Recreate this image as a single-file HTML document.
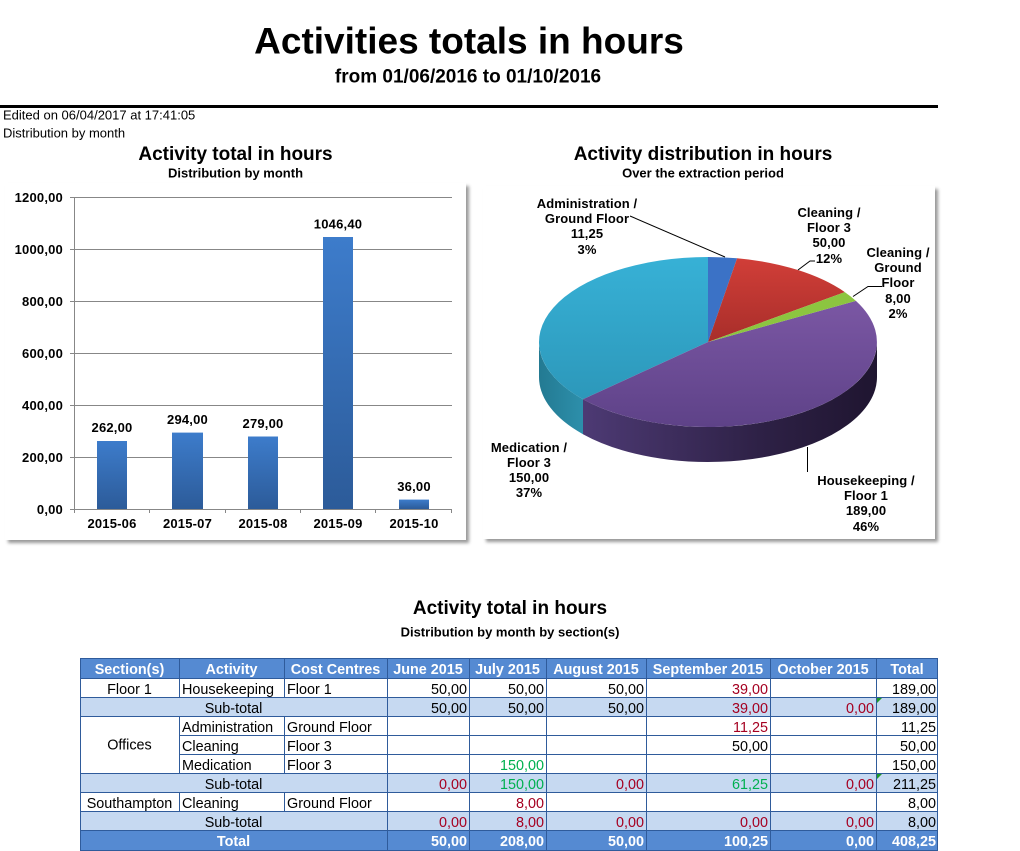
<!DOCTYPE html>
<html><head><meta charset="utf-8">
<style>
html,body{margin:0;padding:0;background:#fff;}
body{width:1020px;height:851px;overflow:hidden;}
svg{display:block;}
text{font-family:"Liberation Sans",Arial,sans-serif;}
.b{font-weight:bold;}
.t{font-size:14.4px;}
</style></head>
<body>
<svg width="1020" height="851" viewBox="0 0 1020 851" xmlns="http://www.w3.org/2000/svg">
<defs>
<filter id="sh" x="-5%" y="-5%" width="112%" height="112%">
<feDropShadow dx="3" dy="3" stdDeviation="1.5" flood-color="#000" flood-opacity="0.4"/>
</filter>
<linearGradient id="barG" x1="0" y1="0" x2="0" y2="1">
<stop offset="0" stop-color="#3d7ccb"/><stop offset="1" stop-color="#2c5b99"/>
</linearGradient>
<linearGradient id="pSide" gradientUnits="userSpaceOnUse" x1="583" y1="0" x2="877" y2="0">
<stop offset="0" stop-color="#4d3a74"/><stop offset="0.6" stop-color="#2e2146"/><stop offset="1" stop-color="#1f1530"/>
</linearGradient>
<linearGradient id="cSide" gradientUnits="userSpaceOnUse" x1="539" y1="0" x2="583" y2="0">
<stop offset="0" stop-color="#237a92"/><stop offset="1" stop-color="#2d8fab"/>
</linearGradient>
<linearGradient id="cTop" gradientUnits="userSpaceOnUse" x1="0" y1="257" x2="0" y2="420">
<stop offset="0" stop-color="#37b1d6"/><stop offset="1" stop-color="#2b94b6"/>
</linearGradient>
<linearGradient id="pTop" gradientUnits="userSpaceOnUse" x1="0" y1="300" x2="0" y2="427">
<stop offset="0" stop-color="#7b57a4"/><stop offset="1" stop-color="#5e4288"/>
</linearGradient>
<linearGradient id="rTop" gradientUnits="userSpaceOnUse" x1="0" y1="258" x2="0" y2="342">
<stop offset="0" stop-color="#d13e38"/><stop offset="1" stop-color="#a82e2a"/>
</linearGradient>
</defs>

<!-- Header -->
<text x="469" y="53.5" class="b" font-size="37" text-anchor="middle">Activities totals in hours</text>
<text x="468" y="82.5" class="b" font-size="19" text-anchor="middle">from 01/06/2016 to 01/10/2016</text>
<rect x="0" y="105" width="938" height="3" fill="#000"/>
<text x="3" y="119.3" font-size="13">Edited on 06/04/2017 at 17:41:05</text>
<text x="3" y="137.3" font-size="13">Distribution by month</text>

<!-- Bar chart -->
<text x="235.5" y="160" class="b" font-size="19" text-anchor="middle">Activity total in hours</text>
<text x="235.5" y="177.3" class="b" font-size="13" text-anchor="middle">Distribution by month</text>
<rect x="5" y="183" width="461" height="357" fill="#fff" filter="url(#sh)"/>
<g stroke="#878787" stroke-width="1">
<line x1="70" y1="197.5" x2="452" y2="197.5"/>
<line x1="70" y1="249.5" x2="452" y2="249.5"/>
<line x1="70" y1="301.5" x2="452" y2="301.5"/>
<line x1="70" y1="353.5" x2="452" y2="353.5"/>
<line x1="70" y1="405.5" x2="452" y2="405.5"/>
<line x1="70" y1="457.5" x2="452" y2="457.5"/>
<line x1="70" y1="509.5" x2="452" y2="509.5"/>
<line x1="74.5" y1="197" x2="74.5" y2="513"/>
<line x1="149.5" y1="509" x2="149.5" y2="513"/>
<line x1="225.5" y1="509" x2="225.5" y2="513"/>
<line x1="300.5" y1="509" x2="300.5" y2="513"/>
<line x1="375.5" y1="509" x2="375.5" y2="513"/>
<line x1="451.5" y1="509" x2="451.5" y2="513"/>
</g>
<g class="b" font-size="13" text-anchor="end" letter-spacing="0.2">
<text x="63" y="202">1200,00</text>
<text x="63" y="254">1000,00</text>
<text x="63" y="306">800,00</text>
<text x="63" y="358">600,00</text>
<text x="63" y="410">400,00</text>
<text x="63" y="462">200,00</text>
<text x="63" y="514">0,00</text>
</g>
<g fill="url(#barG)">
<rect x="97" y="441" width="30" height="68"/>
<rect x="172" y="432.6" width="31" height="76.4"/>
<rect x="248" y="436.5" width="30" height="72.5"/>
<rect x="323" y="237" width="30" height="272"/>
<rect x="399" y="499.6" width="30" height="9.4"/>
</g>
<g class="b" font-size="13" text-anchor="middle" letter-spacing="0.2">
<text x="112" y="432">262,00</text>
<text x="187.5" y="424">294,00</text>
<text x="263" y="428">279,00</text>
<text x="338" y="228.5">1046,40</text>
<text x="414" y="491">36,00</text>
<text x="112" y="528">2015-06</text>
<text x="187.5" y="528">2015-07</text>
<text x="263" y="528">2015-08</text>
<text x="338" y="528">2015-09</text>
<text x="414" y="528">2015-10</text>
</g>

<!-- Pie chart -->
<text x="703" y="160" class="b" font-size="19" text-anchor="middle">Activity distribution in hours</text>
<text x="703" y="177.3" class="b" font-size="13" text-anchor="middle">Over the extraction period</text>
<rect x="483" y="186" width="452" height="353" fill="#fff" filter="url(#sh)"/>
<!-- sides -->
<path d="M877,342 A169,85 0 0,1 583,399.2 L583,434.2 A169,85 0 0,0 877,377 Z" fill="url(#pSide)"/>
<path d="M583,399.2 A169,85 0 0,1 539,342 L539,377 A169,85 0 0,0 583,434.2 Z" fill="url(#cSide)"/>
<!-- tops -->
<path d="M708,342 L583,399.2 A169,85 0 0,1 708,257 Z" fill="url(#cTop)"/>
<path d="M708,342 L855.9,300.9 A169,85 0 0,1 583,399.2 Z" fill="url(#pTop)"/>
<path d="M708,342 L708,257 A169,85 0 0,1 737.1,258.3 Z" fill="#3b72c6"/>
<path d="M708,342 L737.1,258.3 A169,85 0 0,1 844.8,292.1 Z" fill="url(#rTop)"/>
<path d="M708,342 L844.8,292.1 A169,85 0 0,1 855.9,300.9 Z" fill="#8cc540"/>
<!-- leaders -->
<g stroke="#000" stroke-width="1" fill="none">
<polyline points="630,216 725,257"/>
<polyline points="815,261 810,261 798,270"/>
<polyline points="882,286.5 868,286.5 853,296.5"/>
<line x1="807.5" y1="447" x2="807.5" y2="472"/>
</g>
<g class="b" font-size="13" text-anchor="middle" letter-spacing="0.1">
<text x="587" y="208">Administration  /</text>
<text x="587" y="223">Ground Floor</text>
<text x="587" y="238">11,25</text>
<text x="587" y="254">3%</text>
<text x="829" y="217">Cleaning /</text>
<text x="829" y="232">Floor 3</text>
<text x="829" y="247">50,00</text>
<text x="829" y="263">12%</text>
<text x="898" y="257">Cleaning /</text>
<text x="898" y="272">Ground</text>
<text x="898" y="287">Floor</text>
<text x="898" y="303">8,00</text>
<text x="898" y="318">2%</text>
<text x="529" y="452">Medication /</text>
<text x="529" y="467">Floor 3</text>
<text x="529" y="482">150,00</text>
<text x="529" y="497">37%</text>
<text x="866" y="485">Housekeeping  /</text>
<text x="866" y="500">Floor 1</text>
<text x="866" y="515">189,00</text>
<text x="866" y="531">46%</text>
</g>

<!-- Table title -->
<text x="510" y="614" class="b" font-size="19" text-anchor="middle">Activity total in hours</text>
<text x="510" y="636.7" class="b" font-size="13" text-anchor="middle">Distribution by month by section(s)</text>

<!-- Table -->
<g stroke="#2f5b9b" stroke-width="1">
<rect x="80.5" y="658.5" width="857" height="20" fill="#558ad2"/>
<rect x="80.5" y="697.5" width="857" height="19" fill="#c6d9f1"/>
<rect x="80.5" y="773.5" width="857" height="19" fill="#c6d9f1"/>
<rect x="80.5" y="811.5" width="857" height="19" fill="#c6d9f1"/>
<rect x="80.5" y="830.5" width="857" height="20" fill="#558ad2"/>
<rect x="80.5" y="678.5" width="857" height="19" fill="#fff"/>
<rect x="80.5" y="716.5" width="857" height="57" fill="#fff"/>
<rect x="80.5" y="792.5" width="857" height="19" fill="#fff"/>
<line x1="179.5" y1="735.5" x2="937.5" y2="735.5"/>
<line x1="179.5" y1="754.5" x2="937.5" y2="754.5"/>
<line x1="387.5" y1="658.5" x2="387.5" y2="850.5"/>
<line x1="469.5" y1="658.5" x2="469.5" y2="850.5"/>
<line x1="546.5" y1="658.5" x2="546.5" y2="850.5"/>
<line x1="646.5" y1="658.5" x2="646.5" y2="850.5"/>
<line x1="770.5" y1="658.5" x2="770.5" y2="850.5"/>
<line x1="876.5" y1="658.5" x2="876.5" y2="850.5"/>
<line x1="179.5" y1="658.5" x2="179.5" y2="697.5"/>
<line x1="284.5" y1="658.5" x2="284.5" y2="697.5"/>
<line x1="179.5" y1="716.5" x2="179.5" y2="773.5"/>
<line x1="284.5" y1="716.5" x2="284.5" y2="773.5"/>
<line x1="179.5" y1="792.5" x2="179.5" y2="811.5"/>
<line x1="284.5" y1="792.5" x2="284.5" y2="811.5"/>
</g>
<g fill="#1f9a2a">
<polygon points="877,698 882,698 877,703"/>
<polygon points="877,774 882,774 877,779"/>
</g>
<g class="b t" fill="#fff" text-anchor="middle">
<text x="129.5" y="674">Section(s)</text>
<text x="231.5" y="674">Activity</text>
<text x="335.5" y="674">Cost Centres</text>
<text x="428" y="674">June 2015</text>
<text x="507.5" y="674">July 2015</text>
<text x="596" y="674">August 2015</text>
<text x="708" y="674">September 2015</text>
<text x="823" y="674">October 2015</text>
<text x="907" y="674">Total</text>
<text x="233.5" y="846">Total</text>
</g>
<g class="b t" fill="#fff" text-anchor="end">
<text x="467" y="846">50,00</text>
<text x="544" y="846">208,00</text>
<text x="644" y="846">50,00</text>
<text x="768" y="846">100,25</text>
<text x="874" y="846">0,00</text>
<text x="936" y="846">408,25</text>
</g>
<g class="t" text-anchor="middle">
<text x="129.5" y="694">Floor 1</text>
<text x="233.5" y="713">Sub-total</text>
<text x="129.5" y="749.5">Offices</text>
<text x="233.5" y="789">Sub-total</text>
<text x="129.5" y="808">Southampton</text>
<text x="233.5" y="827">Sub-total</text>
</g>
<g class="t">
<text x="182" y="694">Housekeeping</text>
<text x="287" y="694">Floor 1</text>
<text x="182" y="732">Administration</text>
<text x="287" y="732">Ground Floor</text>
<text x="182" y="751">Cleaning</text>
<text x="287" y="751">Floor 3</text>
<text x="182" y="770">Medication</text>
<text x="287" y="770">Floor 3</text>
<text x="182" y="808">Cleaning</text>
<text x="287" y="808">Ground Floor</text>
</g>
<g class="t" text-anchor="end">
<text x="467" y="694">50,00</text>
<text x="544" y="694">50,00</text>
<text x="644" y="694">50,00</text>
<text x="768" y="694" fill="#a50021">39,00</text>
<text x="936" y="694">189,00</text>
<text x="467" y="713">50,00</text>
<text x="544" y="713">50,00</text>
<text x="644" y="713">50,00</text>
<text x="768" y="713" fill="#a50021">39,00</text>
<text x="874" y="713" fill="#a50021">0,00</text>
<text x="936" y="713">189,00</text>
<text x="768" y="732" fill="#a50021">11,25</text>
<text x="936" y="732">11,25</text>
<text x="768" y="751">50,00</text>
<text x="936" y="751">50,00</text>
<text x="544" y="770" fill="#00b050">150,00</text>
<text x="936" y="770">150,00</text>
<text x="467" y="789" fill="#a50021">0,00</text>
<text x="544" y="789" fill="#00b050">150,00</text>
<text x="644" y="789" fill="#a50021">0,00</text>
<text x="768" y="789" fill="#00b050">61,25</text>
<text x="874" y="789" fill="#a50021">0,00</text>
<text x="936" y="789">211,25</text>
<text x="544" y="808" fill="#a50021">8,00</text>
<text x="936" y="808">8,00</text>
<text x="467" y="827" fill="#a50021">0,00</text>
<text x="544" y="827" fill="#a50021">8,00</text>
<text x="644" y="827" fill="#a50021">0,00</text>
<text x="768" y="827" fill="#a50021">0,00</text>
<text x="874" y="827" fill="#a50021">0,00</text>
<text x="936" y="827">8,00</text>
</g>
</svg>
</body></html>
